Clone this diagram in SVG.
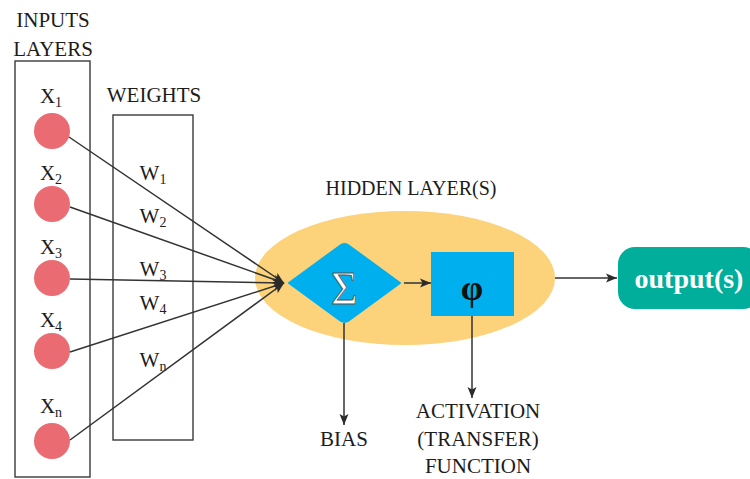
<svg xmlns="http://www.w3.org/2000/svg" width="750" height="479" viewBox="0 0 750 479">
  <defs>
    <marker id="arrow" markerUnits="userSpaceOnUse" markerWidth="12" markerHeight="10" refX="11" refY="5" orient="auto">
      <path d="M0,0.5 L11,5 L0,9.5 L2.5,5 z" fill="#2b2b2b"/>
    </marker>
    <style>
      .lbl { font-family: "Liberation Serif", "Times New Roman", serif; font-size: 21px; fill: #1c1c1c; }
      .sub { font-size: 14px; }
      .frame { fill: none; stroke: #3a3a3a; stroke-width: 1.4; }
      .neuron { fill: #EA6B72; }
      .flow { fill: none; stroke: #333; stroke-width: 1.5; marker-end: url(#arrow); }
    </style>
  </defs>
  <rect width="750" height="479" fill="#ffffff"/>

  <!-- input layer -->
  <g id="inputs">
    <text class="lbl" x="53" y="27" text-anchor="middle">INPUTS</text>
    <text class="lbl" x="53" y="56" text-anchor="middle">LAYERS</text>
    <rect class="frame" x="15" y="61" width="75" height="416"/>
    <text class="lbl" x="51" y="103" text-anchor="middle">X<tspan class="sub" dy="4">1</tspan></text>
    <circle class="neuron" cx="52" cy="131" r="18"/>
    <text class="lbl" x="51" y="180" text-anchor="middle">X<tspan class="sub" dy="4">2</tspan></text>
    <circle class="neuron" cx="52" cy="204" r="18"/>
    <text class="lbl" x="51" y="254" text-anchor="middle">X<tspan class="sub" dy="4">3</tspan></text>
    <circle class="neuron" cx="52" cy="278" r="18"/>
    <text class="lbl" x="51" y="327" text-anchor="middle">X<tspan class="sub" dy="4">4</tspan></text>
    <circle class="neuron" cx="52" cy="351" r="18"/>
    <text class="lbl" x="51" y="413" text-anchor="middle">X<tspan class="sub" dy="4">n</tspan></text>
    <circle class="neuron" cx="52" cy="441" r="18"/>
  </g>

  <!-- weights -->
  <g id="weights">
    <text class="lbl" x="154" y="102" text-anchor="middle">WEIGHTS</text>
    <rect class="frame" x="113" y="115" width="80" height="325"/>
    <text class="lbl" x="153" y="180" text-anchor="middle">W<tspan class="sub" dy="4">1</tspan></text>
    <text class="lbl" x="153" y="223" text-anchor="middle">W<tspan class="sub" dy="4">2</tspan></text>
    <text class="lbl" x="153" y="276" text-anchor="middle">W<tspan class="sub" dy="4">3</tspan></text>
    <text class="lbl" x="153" y="310" text-anchor="middle">W<tspan class="sub" dy="4">4</tspan></text>
    <text class="lbl" x="153" y="367" text-anchor="middle">W<tspan class="sub" dy="4">n</tspan></text>
  </g>

  <!-- hidden layer -->
  <g id="hidden">
    <text class="lbl" x="411" y="195" text-anchor="middle" style="font-size:20px">HIDDEN LAYER(S)</text>
    <ellipse cx="405" cy="278" rx="150" ry="67" fill="#FCD27A"/>
  </g>

  <g id="sum">
    <path d="M289,283 L341,245 Q344.5,243 348,245 L400,283 L348,321 Q344.5,323 341,321 Z" fill="#00B0EE" stroke="#00B0EE" stroke-width="2" stroke-linejoin="round"/>
    <text x="344.5" y="304" text-anchor="middle" style="font-family:'Liberation Serif','Times New Roman',serif;font-size:46px;fill:#ffffff;stroke:#555;stroke-width:0.9">Σ</text>
  </g>

  <g id="activation">
    <rect x="431" y="252" width="83" height="64" fill="#00B0EE"/>
    <text x="472" y="300" text-anchor="middle" style="font-family:'Liberation Serif','Times New Roman',serif;font-size:36px;font-weight:bold;fill:#111">φ</text>
  </g>

  <g id="output">
    <rect x="618" y="247" width="142" height="62" rx="17" fill="#00AE9B"/>
    <text x="689" y="288" text-anchor="middle" style="font-family:'Liberation Serif','Times New Roman',serif;font-size:28px;font-weight:bold;fill:#ffffff">output(s)</text>
  </g>

  <g id="bias-label">
    <text class="lbl" x="344" y="446" text-anchor="middle">BIAS</text>
  </g>

  <g id="activation-label">
    <text class="lbl" x="478" y="418" text-anchor="middle">ACTIVATION</text>
    <text class="lbl" x="478" y="446" text-anchor="middle">(TRANSFER)</text>
    <text class="lbl" x="478" y="473" text-anchor="middle">FUNCTION</text>
  </g>

  <!-- connectors -->
  <g id="connectors">
    <line class="flow" x1="69" y1="137" x2="284" y2="283"/>
    <line class="flow" x1="70" y1="207" x2="284" y2="283"/>
    <line class="flow" x1="70" y1="279" x2="284" y2="283"/>
    <line class="flow" x1="70" y1="352" x2="284" y2="283"/>
    <line class="flow" x1="70" y1="440" x2="284" y2="283"/>
    <line class="flow" x1="404" y1="283" x2="431" y2="283"/>
    <line class="flow" x1="555" y1="278" x2="617" y2="278"/>
    <line class="flow" x1="344" y1="323" x2="344" y2="425"/>
    <line class="flow" x1="472" y1="316" x2="472" y2="398"/>
  </g>
</svg>
